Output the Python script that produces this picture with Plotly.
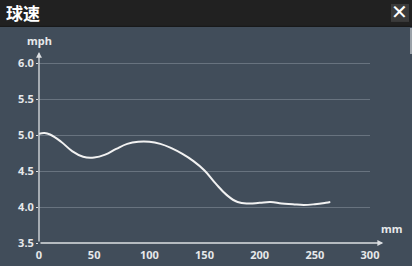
import plotly.graph_objects as go

# ---- data ----
distance_mm = [0, 5, 10, 20, 30, 40, 50, 60, 70, 80, 90, 100, 110, 120, 130,
               140, 150, 160, 170, 180, 190, 200, 210, 220, 230, 240, 250, 260, 264]
speed_mph = [5.02, 5.03, 5.01, 4.91, 4.78, 4.70, 4.69, 4.73, 4.81, 4.88, 4.91, 4.91,
             4.88, 4.82, 4.74, 4.64, 4.51, 4.33, 4.17, 4.07, 4.05, 4.06, 4.07, 4.05,
             4.04, 4.03, 4.04, 4.06, 4.07]
x_ticks = [0, 50, 100, 150, 200, 250, 300]
y_ticks = [3.5, 4.0, 4.5, 5.0, 5.5, 6.0]
y_tick_text = ["3.5", "4.0", "4.5", "5.0", "5.5", "6.0"]
title_text = "球速"
x_unit = "mm"
y_unit = "mph"

W, H = 412, 266
Y_TOP = 6.02
PX_PER_UNIT = 72
L, R, B = 39, 42, 23
T = 63.5 - (Y_TOP - 6.0) * PX_PER_UNIT
PH = H - T - B

def py(p):
    return (H - B - p) / PH

def px(p):
    return (p - L) / (W - L - R)

BG = "#414d5a"
AX = "#dcdfe2"
FONT = "Noto Sans"

fig = go.Figure()
fig.add_trace(go.Scatter(
    x=distance_mm, y=speed_mph, mode="lines",
    line=dict(color="#f2f2f2", width=2, shape="spline", smoothing=1.2),
    hoverinfo="skip", showlegend=False,
))

fig.update_layout(
    width=W, height=H,
    margin=dict(l=L, r=R, t=T, b=B, pad=0, autoexpand=False),
    paper_bgcolor=BG, plot_bgcolor=BG,
    showlegend=False,
    xaxis=dict(range=[0, 300], tickvals=x_ticks, showgrid=False, zeroline=False,
               showline=False, ticks="outside", ticklen=2, tickcolor=BG,
               tickfont=dict(family=FONT, size=11, color="#e6e8ea", weight="bold"),
               fixedrange=True, automargin=False),
    yaxis=dict(range=[3.5, Y_TOP], tickvals=y_ticks, ticktext=y_tick_text,
               showgrid=True, gridcolor="#68737f", gridwidth=1, zeroline=False,
               showline=False, ticks="outside", ticklen=2, tickcolor=AX,
               tickfont=dict(family=FONT, size=11, color="#e6e8ea", weight="bold"),
               fixedrange=True, automargin=False),
)

shapes = [
    # header bar
    dict(type="rect", xref="paper", yref="paper", x0=px(0), x1=px(W),
         y0=py(26), y1=py(0), fillcolor="#212121", line=dict(width=0), layer="above"),
    dict(type="line", xref="paper", yref="paper", x0=px(0), x1=px(W),
         y0=py(26.5), y1=py(26.5), line=dict(color="#151515", width=1), layer="above"),
    # close button box
    dict(type="rect", xref="paper", yref="paper", x0=px(391), x1=px(409),
         y0=py(22), y1=py(4), fillcolor="#3b3b3b", line=dict(width=0), layer="above"),
    # scroll strip on right edge
    dict(type="rect", xref="paper", yref="paper", x0=px(410), x1=px(412),
         y0=py(54), y1=py(28), fillcolor="#9aa1a8", line=dict(width=0), layer="above"),
]
fig.update_layout(shapes=shapes)

annotations = [
    dict(text=title_text, xref="paper", yref="paper", x=px(4), y=py(13),
         xanchor="left", yanchor="middle", showarrow=False,
         font=dict(family="Noto Sans CJK SC", size=17, color="#ffffff", weight="bold")),
    dict(text="✕", xref="paper", yref="paper", x=px(400), y=py(12.5),
         xanchor="center", yanchor="middle", showarrow=False,
         font=dict(family="DejaVu Sans", size=20, color="#ffffff", weight="bold")),
    # axes with arrows
    dict(x=0, y=6.16, ax=0, ay=3.5, xref="x", yref="y", axref="x", ayref="y",
         text="", showarrow=True, arrowhead=2, arrowsize=0.9, arrowwidth=1.3,
         arrowcolor=AX),
    dict(x=312, y=3.5, ax=0, ay=3.5, xref="x", yref="y", axref="x", ayref="y",
         text="", showarrow=True, arrowhead=2, arrowsize=0.9, arrowwidth=1.3,
         arrowcolor=AX),
    dict(text=y_unit, xref="x", yref="paper", x=0, y=py(41), xanchor="center",
         yanchor="middle", showarrow=False,
         font=dict(family=FONT, size=11, color="#e6e8ea", weight="bold")),
    dict(text=x_unit, xref="paper", yref="paper", x=px(392), y=py(229),
         xanchor="center", yanchor="middle", showarrow=False,
         font=dict(family=FONT, size=11, color="#e6e8ea", weight="bold")),
]
fig.update_layout(annotations=annotations)

fig.write_html("out.html", config={"displayModeBar": False})
